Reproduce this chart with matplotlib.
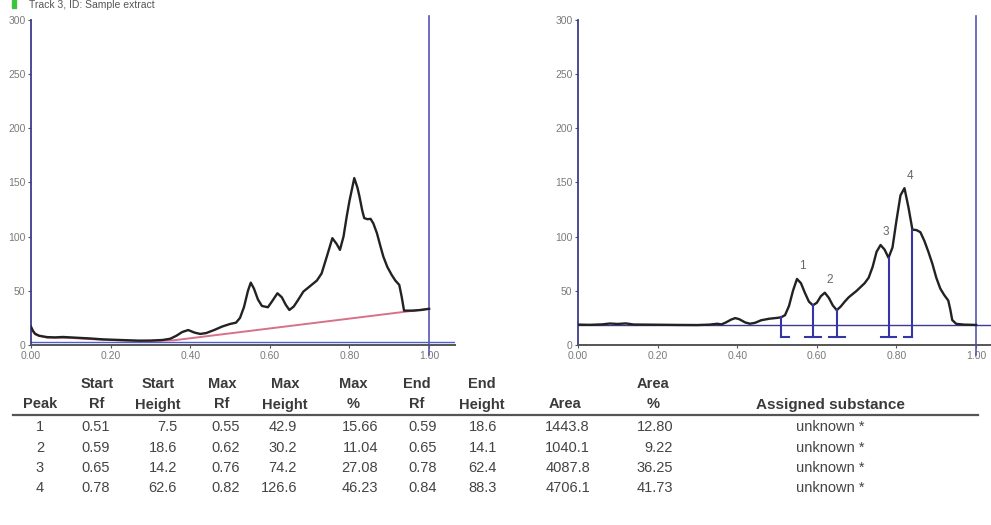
import matplotlib
matplotlib.use("Agg")
import matplotlib.pyplot as plt

plt.rcParams['font.family'] = ['Liberation Sans', 'DejaVu Sans']

# ---- densitogram, raw track (left) ----
raw_rf = [0.000, 0.005, 0.01, 0.02, 0.04, 0.06, 0.08, 0.10, 0.12, 0.15, 0.18, 0.21,
          0.24, 0.27, 0.30, 0.33, 0.35, 0.365, 0.38, 0.395, 0.41, 0.425, 0.44, 0.46,
          0.48, 0.50, 0.515, 0.525, 0.535, 0.545, 0.552, 0.56, 0.57, 0.58, 0.595,
          0.605, 0.619, 0.63, 0.64, 0.649, 0.66, 0.67, 0.684, 0.70, 0.718, 0.73,
          0.743, 0.757, 0.768, 0.776, 0.785, 0.793, 0.80, 0.812, 0.82, 0.825, 0.832,
          0.837, 0.845, 0.853, 0.86, 0.869, 0.877, 0.885, 0.895, 0.906, 0.915, 0.925,
          0.931, 0.935, 0.937, 0.96, 0.98, 1.00]
raw_au = [16.9, 13.0, 10.5, 8.5, 7.3, 7.0, 7.4, 7.0, 6.6, 6.0, 5.2, 4.8,
          4.4, 4.0, 4.1, 4.6, 5.8, 8.5, 12.0, 13.8, 11.5, 10.2, 11.0, 13.8,
          17.0, 19.4, 20.6, 25.0, 35.0, 50.0, 57.5, 52.0, 42.0, 36.0, 34.8,
          40.0, 47.7, 44.0, 37.0, 32.3, 35.5, 41.0, 49.2, 54.0, 59.4, 66.0,
          81.5, 98.5, 93.0, 87.7, 100.0, 118.5, 133.0, 153.9, 145.0, 137.0, 124.0,
          117.0, 116.0, 116.3, 112.0, 103.0, 92.0, 81.5, 72.0, 64.6, 59.5, 55.4,
          44.6, 36.0, 31.7, 31.7, 32.3, 33.4]

# baseline under the raw track
base_rf = [0.0, 0.01, 0.04, 0.10, 0.18, 0.24, 0.30, 0.36, 1.00]
base_au = [15.5, 9.8, 6.8, 6.5, 4.8, 4.0, 3.6, 4.4, 33.4]

# ---- baseline-corrected track (right) ----
corr_rf = [0.00, 0.03, 0.06, 0.08, 0.10, 0.12, 0.14, 0.20, 0.25, 0.30, 0.33, 0.35,
           0.36, 0.37, 0.385, 0.395, 0.405, 0.42, 0.432, 0.445, 0.46, 0.48, 0.50,
           0.51, 0.52, 0.53, 0.54, 0.55, 0.56, 0.57, 0.58, 0.59, 0.60, 0.61, 0.62,
           0.63, 0.64, 0.65, 0.66, 0.67, 0.68, 0.70, 0.72, 0.73, 0.74, 0.75, 0.76,
           0.77, 0.78, 0.79, 0.80, 0.81, 0.82, 0.83, 0.84, 0.85, 0.86, 0.87, 0.88,
           0.89, 0.90, 0.91, 0.92, 0.93, 0.935, 0.94, 0.95, 0.97, 1.00]
corr_au = [18.8, 18.6, 19.0, 19.8, 19.4, 19.9, 18.9, 18.7, 18.5, 18.4, 18.8, 19.6,
           19.0, 20.5, 23.5, 24.8, 23.8, 20.8, 19.6, 20.5, 22.8, 24.2, 25.0,
           25.5, 27.5, 36.0, 50.0, 60.9, 57.0, 48.0, 40.0, 36.6, 39.0, 45.0, 48.2,
           43.5, 36.5, 32.1, 35.5, 40.0, 44.0, 50.0, 57.0, 62.0, 72.0, 86.0, 92.2,
           88.0, 80.4, 90.0, 115.0, 138.0, 144.6, 127.0, 106.3, 106.0, 104.0, 96.0, 86.0,
           75.0, 62.0, 52.0, 46.0, 41.0, 33.0, 23.0, 19.5, 18.8, 18.5]
corr_baseline = 18.0

# ---- peak table ----
peak = [1, 2, 3, 4]
start_rf = [0.51, 0.59, 0.65, 0.78]
start_height = [7.5, 18.6, 14.2, 62.6]
max_rf = [0.55, 0.62, 0.76, 0.82]
max_height = [42.9, 30.2, 74.2, 126.6]
max_pct = [15.66, 11.04, 27.08, 46.23]
end_rf = [0.59, 0.65, 0.78, 0.84]
end_height = [18.6, 14.1, 62.4, 88.3]
area = [1443.8, 1040.1, 4087.8, 4706.1]
area_pct = [12.80, 9.22, 36.25, 41.73]
substance = ["unknown *", "unknown *", "unknown *", "unknown *"]

y_ticks = [0, 50, 100, 150, 200, 250, 300]
x_ticks = [0.0, 0.2, 0.4, 0.6, 0.8, 1.0]

W, H = 991, 525
fig = plt.figure(figsize=(W / 100, H / 100), dpi=100)

NAVY = "#3b3b8f"
BLUE = "#4f5fcf"
GREY_TXT = "#7a7a7a"


def make_axes(left_px):
    ax = fig.add_axes([left_px / W, (H - 345) / H, 424 / W, 327 / H])
    ax.set_xlim(0, 1.065)
    ax.set_ylim(0, 301.5)
    for s in ("top", "right"):
        ax.spines[s].set_visible(False)
    ax.spines["left"].set_color(NAVY)
    ax.spines["left"].set_linewidth(1.3)
    ax.spines["left"].set_bounds(0, 300)
    ax.spines["bottom"].set_color("#555555")
    ax.spines["bottom"].set_linewidth(1.4)
    ax.set_yticks(y_ticks)
    ax.set_yticklabels([str(v) for v in y_ticks])
    ax.set_xticks(x_ticks)
    ax.set_xticklabels([f"{v:.2f}" for v in x_ticks])
    ax.tick_params(axis="both", labelsize=7.5, labelcolor=GREY_TXT, color="#555555",
                   length=2.5, width=0.8, pad=1.5)
    ax.patch.set_alpha(0)
    # end-of-track marker
    ax.plot([1.0, 1.0], [-9, 303], color="#5656b4", lw=1.2, clip_on=False)
    return ax


# left: raw track with baseline
axl = make_axes(31)
axl.axhline(3.2, color=BLUE, lw=1.0)
axl.plot(base_rf, base_au, color="#d8708a", lw=1.4, zorder=2)
axl.plot(raw_rf, raw_au, color="#222222", lw=1.7, zorder=3)

# right: corrected track with integrated peaks
axr = make_axes(578)
axr.axhline(corr_baseline, color=NAVY, lw=1.0)
axr.plot(corr_rf, corr_au, color="#222222", lw=1.7, zorder=3)

low = corr_baseline - 10.3
tick_w = 0.02
bounds = {}
for i in range(len(peak)):
    bounds.setdefault(start_rf[i], [start_height[i], False, False])
    bounds[start_rf[i]][1] = True
    bounds.setdefault(end_rf[i], [end_height[i], False, False])
    bounds[end_rf[i]][2] = True
for rf, (h, is_start, is_end) in bounds.items():
    axr.plot([rf, rf], [low, corr_baseline + h], color="#3535a8", lw=1.5, zorder=4)
    x0 = rf - tick_w if is_end else rf
    x1 = rf + tick_w if is_start else rf
    axr.plot([x0, x1], [low, low], color="#3535a8", lw=1.5, zorder=4)

for i in range(len(peak)):
    axr.text(max_rf[i] + 0.013, corr_baseline + max_height[i] + 6, str(peak[i]),
             ha="center", va="bottom", fontsize=8.5, color="#666666")

# track header strip
fig.patches.append(plt.Rectangle((12 / W, 1 - 8 / H), 4 / W, 8 / H,
                                 transform=fig.transFigure, color="#3cc43c"))
fig.text(29 / W, 1 - 8 / H, "Track 3, ID: Sample extract", fontsize=7.5,
         color="#555555", ha="left", va="baseline")

# ---- table ----
def fy(py):
    return 1 - py / H

cols = [
    ("", "Peak", "center", 40, [str(v) for v in peak]),
    ("Start", "Rf", "right", 110, [f"{v:.2f}" for v in start_rf]),
    ("Start", "Height", "right", 177, [f"{v:.1f}" for v in start_height]),
    ("Max", "Rf", "right", 240, [f"{v:.2f}" for v in max_rf]),
    ("Max", "Height", "right", 297, [f"{v:.1f}" for v in max_height]),
    ("Max", "%", "right", 378, [f"{v:.2f}" for v in max_pct]),
    ("End", "Rf", "right", 437, [f"{v:.2f}" for v in end_rf]),
    ("End", "Height", "right", 497, [f"{v:.1f}" for v in end_height]),
    ("", "Area", "right", 590, [f"{v:.1f}" for v in area]),
    ("Area", "%", "right", 673, [f"{v:.2f}" for v in area_pct]),
    ("", "Assigned substance", "center", 830, substance),
]
header_x = [40, 97, 158, 222, 285, 353, 417, 482, 565, 653, 830]
row_py = [427, 447.5, 468, 488.5]

for (h1, h2, align, xpx, vals), hx in zip(cols, header_x):
    hsize = 11 if len(h2) > 10 else 10.5
    if h1:
        fig.text(hx / W, fy(384), h1, ha="center", va="center", fontsize=10.5,
                 fontweight="bold", color="#3a3a3a")
    fig.text(hx / W, fy(404.5), h2, ha="center", va="center", fontsize=hsize,
             fontweight="bold", color="#3a3a3a")
    for py, v in zip(row_py, vals):
        fig.text(xpx / W, fy(py), v, ha=align, va="center", fontsize=10.5,
                 color="#444444")

fig.add_artist(plt.Line2D([13 / W, 978 / W], [fy(414.5), fy(414.5)],
                          color="#555555", lw=1.6))

fig.savefig("out.png", dpi=100)
